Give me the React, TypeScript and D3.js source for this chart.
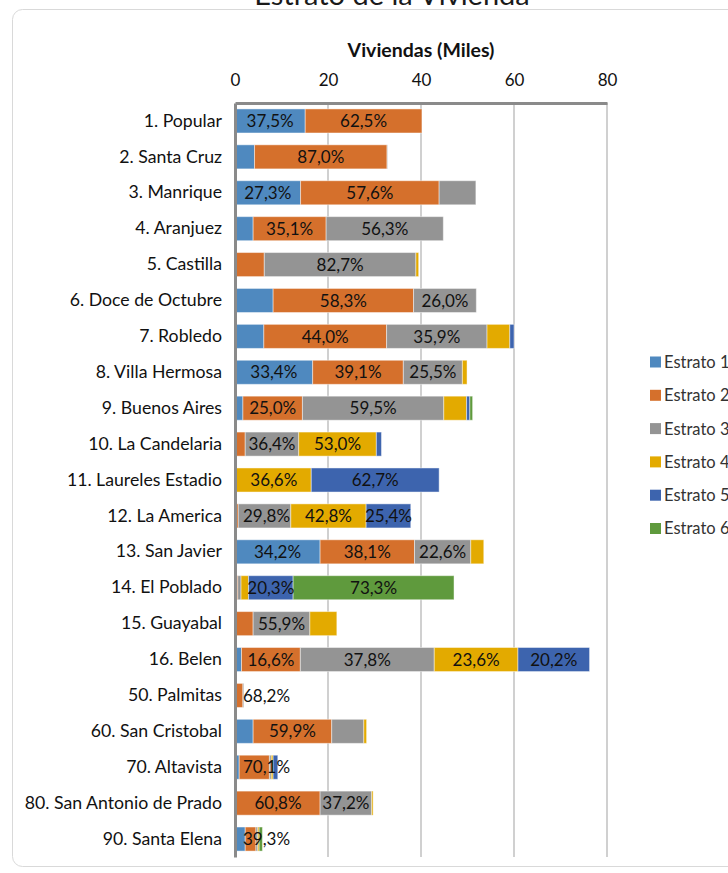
import { useEffect, useRef } from "react";
import * as d3 from "d3";

// comunas y corregimientos
const comunas = [
  "1. Popular",
  "2. Santa Cruz",
  "3. Manrique",
  "4. Aranjuez",
  "5. Castilla",
  "6. Doce de Octubre",
  "7. Robledo",
  "8. Villa Hermosa",
  "9. Buenos Aires",
  "10. La Candelaria",
  "11. Laureles Estadio",
  "12. La America",
  "13. San Javier",
  "14. El Poblado",
  "15. Guayabal",
  "16. Belen",
  "50. Palmitas",
  "60. San Cristobal",
  "70. Altavista",
  "80. San Antonio de Prado",
  "90. Santa Elena",
];

// viviendas (miles) por estrato
const estrato1 = [15.1, 4.2, 14.1, 3.9, 0.1, 8.2, 6.2, 16.7, 1.7, 0.1, 0, 0.1, 18.3, 0, 0, 1.4, 0.3, 3.9, 0.9, 0.2, 2.2];
const estrato2 = [25.1, 28.5, 29.8, 15.7, 6.2, 30.2, 26.4, 19.5, 12.8, 2.1, 0, 0.6, 20.3, 0.6, 3.9, 12.65, 1.4, 16.9, 6.5, 18.1, 2.3];
const estrato3 = [0, 0.1, 7.9, 25.2, 32.6, 13.5, 21.6, 12.7, 30.4, 11.5, 0.3, 11.3, 12.1, 0.7, 12.2, 28.8, 0.2, 6.9, 0.4, 11.1, 0.4];
const estrato4 = [0, 0, 0, 0, 0.6, 0, 4.9, 1.0, 4.9, 16.7, 16.1, 16.2, 2.8, 1.6, 5.8, 18.0, 0, 0.6, 0.4, 0.3, 0.3];
const estrato5 = [0, 0, 0, 0, 0, 0, 0.9, 0, 0.7, 1.1, 27.5, 9.6, 0, 9.6, 0, 15.4, 0, 0, 1.0, 0, 0];
const estrato6 = [0, 0, 0, 0, 0, 0, 0, 0, 0.6, 0, 0, 0, 0, 34.6, 0, 0, 0, 0, 0, 0, 0.7];

// etiquetas de porcentaje visibles
const etiqueta1 = ["37,5%", "", "27,3%", "", "", "", "", "33,4%", "", "", "", "", "34,2%", "", "", "", "", "", "", "", ""];
const etiqueta2 = ["62,5%", "87,0%", "57,6%", "35,1%", "", "58,3%", "44,0%", "39,1%", "25,0%", "", "", "", "38,1%", "", "", "16,6%", "68,2%", "59,9%", "70,1%", "60,8%", "39,3%"];
const etiqueta3 = ["", "", "", "56,3%", "82,7%", "26,0%", "35,9%", "25,5%", "59,5%", "36,4%", "", "29,8%", "22,6%", "", "55,9%", "37,8%", "", "", "", "37,2%", ""];
const etiqueta4 = ["", "", "", "", "", "", "", "", "", "53,0%", "36,6%", "42,8%", "", "", "", "23,6%", "", "", "", "", ""];
const etiqueta5 = ["", "", "", "", "", "", "", "", "", "", "62,7%", "25,4%", "", "20,3%", "", "20,2%", "", "", "", "", ""];
const etiqueta6 = ["", "", "", "", "", "", "", "", "", "", "", "", "", "73,3%", "", "", "", "", "", "", ""];

const estratos = ["Estrato 1", "Estrato 2", "Estrato 3", "Estrato 4", "Estrato 5", "Estrato 6"];
const colores = ["#4f89bf", "#d5702c", "#949494", "#e3aa00", "#3d64ae", "#5f9a3d"];
const xTicks = [0, 20, 40, 60, 80];

const FONT = "Lato, 'Liberation Sans', sans-serif";

const App = () => {
  const ref = useRef<SVGSVGElement | null>(null);

  useEffect(() => {
    drawChart();
  }, []);

  const drawChart = () => {
    const svg = d3.select(ref.current);
    svg.selectAll("*").remove();

    const plot = { left: 235, right: 607, top: 103, bottom: 857 };

    const series = [estrato1, estrato2, estrato3, estrato4, estrato5, estrato6];
    const etiquetas = [etiqueta1, etiqueta2, etiqueta3, etiqueta4, etiqueta5, etiqueta6];
    const rows = comunas.map((c, i) => {
      const r: any = { comuna: c };
      estratos.forEach((e, k) => (r[e] = series[k][i]));
      return r;
    });
    const stacked = d3.stack().keys(estratos)(rows);

    const xScale = d3.scaleLinear().domain([0, 80]).range([plot.left, plot.right]);
    const yScale = d3
      .scaleBand()
      .domain(comunas)
      .range([plot.top, plot.bottom])
      .paddingInner(0.33)
      .paddingOuter(0.165);

    // marco
    svg
      .append("rect")
      .attr("x", 12.5)
      .attr("y", 9.5)
      .attr("width", 760)
      .attr("height", 857)
      .attr("rx", 10)
      .attr("fill", "#fff")
      .attr("stroke", "#d9d9d9");

    // titulo (recortado arriba como en el original)
    svg
      .append("text")
      .attr("x", 392)
      .attr("y", 5)
      .attr("text-anchor", "middle")
      .style("font-family", FONT)
      .style("font-size", "29px")
      .attr("fill", "#1a1a1a")
      .text("Estrato de la Vivienda");

    // lineas de cuadricula
    svg
      .append("g")
      .selectAll("line")
      .data(xTicks.slice(1))
      .join("line")
      .attr("x1", (d) => xScale(d))
      .attr("x2", (d) => xScale(d))
      .attr("y1", plot.top)
      .attr("y2", plot.bottom)
      .attr("stroke", "#c0c0c0")
      .attr("stroke-width", 1.5);

    // barras
    svg
      .append("g")
      .selectAll("g")
      .data(stacked)
      .join("g")
      .attr("fill", (_, k) => colores[k])
      .selectAll("rect")
      .data((d) => d.filter((p) => p[1] - p[0] > 0))
      .join("rect")
      .attr("x", (d) => xScale(d[0]))
      .attr("width", (d) => xScale(d[1]) - xScale(d[0]))
      .attr("y", (d: any) => yScale(d.data.comuna)!)
      .attr("height", yScale.bandwidth())
      .attr("stroke", "#fff")
      .attr("stroke-opacity", 0.45)
      .attr("stroke-width", 1);

    // etiquetas de datos
    const gLabels = svg.append("g");
    stacked.forEach((s, k) => {
      s.forEach((p, i) => {
        const txt = etiquetas[k][i];
        if (!txt) return;
        const cx = (xScale(p[0]) + xScale(p[1])) / 2;
        const t = gLabels
          .append("text")
          .attr("x", cx)
          .attr("y", yScale(comunas[i])! + yScale.bandwidth() / 2)
          .attr("dy", "0.36em")
          .attr("text-anchor", "middle")
          .style("font-family", FONT)
          .style("font-size", "17px")
          .attr("fill", "#111")
          .text(txt);
        const w = (t.node() as SVGTextElement).getComputedTextLength();
        // mantener dentro del area de trazado
        if (cx - w / 2 < plot.left + 8) t.attr("x", plot.left + 8 + w / 2);
      });
    });

    // eje superior
    svg
      .append("g")
      .attr("transform", `translate(0,${plot.top})`)
      .call(d3.axisTop(xScale).tickValues(xTicks).tickSize(0).tickSizeOuter(0).tickPadding(17))
      .call((g) => g.select(".domain").attr("stroke", "#8a8a8a").attr("stroke-width", 3))
      .call((g) =>
        g
          .selectAll("text")
          .style("font-family", FONT)
          .style("font-size", "17px")
          .attr("fill", "#111")
      );

    // eje de categorias
    svg
      .append("g")
      .attr("transform", `translate(${plot.left},0)`)
      .call(d3.axisLeft(yScale).tickSize(0).tickSizeOuter(0).tickPadding(13))
      .call((g) => g.select(".domain").attr("stroke", "#8a8a8a").attr("stroke-width", 3))
      .call((g) =>
        g
          .selectAll("text")
          .style("font-family", FONT)
          .style("font-size", "17.7px")
          .attr("fill", "#111")
      );

    // titulo del eje
    svg
      .append("text")
      .attr("x", (plot.left + plot.right) / 2)
      .attr("y", 57)
      .attr("text-anchor", "middle")
      .style("font-family", FONT)
      .style("font-size", "19.5px")
      .style("font-weight", "bold")
      .attr("fill", "#111")
      .text("Viviendas (Miles)");

    // leyenda
    const legend = svg
      .append("g")
      .selectAll("g")
      .data(estratos)
      .join("g")
      .attr("transform", (_, k) => `translate(650,${362 + k * 33.3})`);
    legend
      .append("rect")
      .attr("x", 0)
      .attr("y", -5.5)
      .attr("width", 11)
      .attr("height", 11)
      .attr("fill", (_, k) => colores[k]);
    legend
      .append("text")
      .attr("x", 14)
      .attr("dy", "0.36em")
      .style("font-family", FONT)
      .style("font-size", "16.5px")
      .attr("fill", "#333")
      .text((d) => d);
  };

  return (
    <div style={{ position: "absolute", left: 0, top: 0, width: 728, height: 873, overflow: "hidden", background: "#fff" }}>
      <svg ref={ref} width={728} height={873} />
    </div>
  );
};

export default App;
